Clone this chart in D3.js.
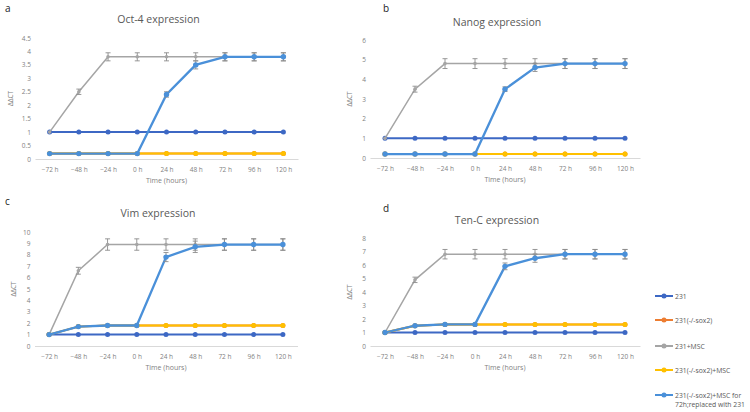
<!DOCTYPE html>
<html><head><meta charset="utf-8">
<script src="https://cdn.jsdelivr.net/npm/d3@7/dist/d3.min.js"></script>
<style>body{margin:0;background:#fff;}svg{display:block;font-family:"Open Sans",sans-serif;}</style>
</head><body><svg id="c" width="750" height="412"></svg>
<script>
const timeLabels = ["\u221272 h","\u221248 h","\u221224 h","0 h","24 h","48 h","72 h","96 h","120 h"];
const seriesNames = ["231","231(-/-sox2)","231+MSC","231(-/-sox2)+MSC","231(-/-sox2)+MSC for 72h;replaced with 231"];
const seriesColors = ["#3d68c4","#ed7d31","#a5a5a5","#ffc000","#4a90d9"];

// Oct-4
const oct4_231   = [1,1,1,1,1,1,1,1,1];
const oct4_ko    = [0.2,0.2,0.2,0.2,0.2,0.2,0.2,0.2,0.2];
const oct4_msc   = [1,2.5,3.8,3.8,3.8,3.8,3.8,3.8,3.8];
const oct4_komsc = [0.2,0.2,0.2,0.2,0.2,0.2,0.2,0.2,0.2];
const oct4_repl  = [0.2,0.2,0.2,0.2,2.4,3.5,3.8,3.8,3.8];
const oct4_mscErr  = [0,0.1,0.15,0.15,0.15,0.15,0.15,0.15,0.15];
const oct4_replErr = [0,0,0,0,0.1,0.15,0.15,0.15,0.15];
// Nanog
const nanog_231   = [1,1,1,1,1,1,1,1,1];
const nanog_ko    = [0.2,0.2,0.2,0.2,0.2,0.2,0.2,0.2,0.2];
const nanog_msc   = [1,3.5,4.8,4.8,4.8,4.8,4.8,4.8,4.8];
const nanog_komsc = [0.2,0.2,0.2,0.2,0.2,0.2,0.2,0.2,0.2];
const nanog_repl  = [0.2,0.2,0.2,0.2,3.5,4.6,4.8,4.8,4.8];
const nanog_mscErr  = [0,0.15,0.25,0.25,0.25,0.25,0.25,0.25,0.25];
const nanog_replErr = [0,0,0,0,0.12,0.2,0.25,0.25,0.25];
// Vim
const vim_231   = [1,1,1,1,1,1,1,1,1];
const vim_ko    = [1,1.7,1.8,1.8,1.8,1.8,1.8,1.8,1.8];
const vim_msc   = [1,6.6,8.9,8.9,8.9,8.9,8.9,8.9,8.9];
const vim_komsc = [1,1.7,1.8,1.8,1.8,1.8,1.8,1.8,1.8];
const vim_repl  = [1,1.7,1.8,1.8,7.8,8.7,8.9,8.9,8.9];
const vim_mscErr  = [0,0.3,0.5,0.5,0.5,0.5,0.5,0.5,0.5];
const vim_replErr = [0,0,0,0,0.4,0.5,0.5,0.5,0.5];
// Ten-C
const tenc_231   = [1,1,1,1,1,1,1,1,1];
const tenc_ko    = [1,1.5,1.6,1.6,1.6,1.6,1.6,1.6,1.6];
const tenc_msc   = [1,4.9,6.8,6.8,6.8,6.8,6.8,6.8,6.8];
const tenc_komsc = [1,1.5,1.6,1.6,1.6,1.6,1.6,1.6,1.6];
const tenc_repl  = [1,1.5,1.6,1.6,5.9,6.5,6.8,6.8,6.8];
const tenc_mscErr  = [0,0.2,0.35,0.35,0.35,0.35,0.35,0.35,0.35];
const tenc_replErr = [0,0,0,0,0.25,0.3,0.35,0.35,0.35];

const oct4Ticks = [0,0.5,1,1.5,2,2.5,3,3.5,4,4.5];
const nanogTicks = [0,1,2,3,4,5,6];
const vimTicks = [0,1,2,3,4,5,6,7,8,9,10];
const tencTicks = [0,1,2,3,4,5,6,7,8];

const panels = [
  {letter:"a", title:"Oct-4 expression", series:[oct4_231,oct4_ko,oct4_msc,oct4_komsc,oct4_repl], mscErr:oct4_mscErr, replErr:oct4_replErr, ticks:oct4Ticks,
   xr:[35,298], yr:[159,38], lx:5, ly:12, ty:23, axTitleX:13},
  {letter:"b", title:"Nanog expression", series:[nanog_231,nanog_ko,nanog_msc,nanog_komsc,nanog_repl], mscErr:nanog_mscErr, replErr:nanog_replErr, ticks:nanogTicks,
   xr:[370,640], yr:[158,40], lx:383, ly:12, ty:26, axTitleX:352},
  {letter:"c", title:"Vim expression", series:[vim_231,vim_ko,vim_msc,vim_komsc,vim_repl], mscErr:vim_mscErr, replErr:vim_replErr, ticks:vimTicks,
   xr:[34.5,297.5], yr:[346,232], lx:5, ly:205, ty:217, axTitleX:16},
  {letter:"d", title:"Ten-C expression", series:[tenc_231,tenc_ko,tenc_msc,tenc_komsc,tenc_repl], mscErr:tenc_mscErr, replErr:tenc_replErr, ticks:tencTicks,
   xr:[370,640], yr:[346,238], lx:383, ly:212, ty:224, axTitleX:352}
];

const svg = d3.select("#c");
const txtCol = "#7f7f7f";

panels.forEach(p => {
  const g = svg.append("g");
  const x = d3.scalePoint().domain(timeLabels).range(p.xr).padding(0.5);
  const y = d3.scaleLinear().domain([0, d3.max(p.ticks)]).range(p.yr);

  g.append("text").attr("x",p.lx).attr("y",p.ly).attr("font-size",10).attr("fill","#222").text(p.letter);
  g.append("text").attr("x",(p.xr[0]+p.xr[1])/2 - 8).attr("y",p.ty).attr("text-anchor","middle")
    .attr("font-size",10.5).attr("fill","#595959").text(p.title);

  const ya = d3.axisLeft(y).tickValues(p.ticks).tickFormat(d=>String(d)).tickSize(0).tickPadding(0);
  const yg = g.append("g").attr("transform",`translate(${p.xr[0]-4},0)`).call(ya);
  yg.select(".domain").remove();
  yg.selectAll("text").attr("font-size",6.5).attr("fill",txtCol).attr("font-family","Open Sans");

  const xa = d3.axisBottom(x).tickSize(0).tickPadding(8);
  const xg = g.append("g").attr("transform",`translate(0,${p.yr[0]})`).call(xa);
  xg.select(".domain").attr("stroke","#d9d9d9").attr("stroke-width",1);
  xg.selectAll("text").attr("font-size",6.5).attr("fill",txtCol).attr("font-family","Open Sans");

  g.append("text").attr("x",(p.xr[0]+p.xr[1])/2).attr("y",p.yr[0]+24).attr("text-anchor","middle")
    .attr("font-size",7).attr("fill",txtCol).text("Time (hours)");
  g.append("text").attr("transform",`translate(${p.axTitleX},${(p.yr[0]+p.yr[1])/2}) rotate(-90)`)
    .attr("text-anchor","middle").attr("font-size",6.5).attr("fill",txtCol).text("\u0394\u0394CT");

  const line = d3.line().x((d,i)=>x(timeLabels[i])).y(d=>y(d));
  p.series.forEach((s,si) => {
    const col = seriesColors[si];
    const sw = si===2 ? 1.5 : (si===4 ? 2.3 : 2);
    const r = si===2 ? 1.8 : (si===4 ? 2.7 : 2.5);
    g.append("path").datum(s).attr("d",line).attr("fill","none").attr("stroke",col).attr("stroke-width",sw);
    const err = si===2 ? p.mscErr : (si===4 ? p.replErr : null);
    if (err) {
      s.forEach((v,i) => {
        if (!err[i]) return;
        const cx = x(timeLabels[i]);
        const eg = g.append("g").attr("stroke","#8c8c8c").attr("stroke-width",0.9);
        eg.append("line").attr("x1",cx).attr("x2",cx).attr("y1",y(v-err[i])).attr("y2",y(v+err[i]));
        eg.append("line").attr("x1",cx-2.5).attr("x2",cx+2.5).attr("y1",y(v-err[i])).attr("y2",y(v-err[i]));
        eg.append("line").attr("x1",cx-2.5).attr("x2",cx+2.5).attr("y1",y(v+err[i])).attr("y2",y(v+err[i]));
      });
    }
    g.selectAll(null).data(s).enter().append("circle")
      .attr("cx",(d,i)=>x(timeLabels[i])).attr("cy",d=>y(d)).attr("r",r).attr("fill",col);
  });
});

const legY = [296, 320, 346, 370, 395];
seriesNames.forEach((n,i) => {
  const lg = svg.append("g");
  lg.append("line").attr("x1",655).attr("x2",673).attr("y1",legY[i]).attr("y2",legY[i])
    .attr("stroke",seriesColors[i]).attr("stroke-width",2);
  lg.append("circle").attr("cx",664).attr("cy",legY[i]).attr("r",2.5).attr("fill",seriesColors[i]);
  const t = lg.append("text").attr("x",675).attr("y",legY[i]+2.5).attr("font-size",6.8).attr("fill","#595959");
  if (i===4) {
    t.append("tspan").attr("x",675).text("231(-/-sox2)+MSC for");
    t.append("tspan").attr("x",675).attr("dy",9.5).text("72h;replaced with 231");
  } else t.text(n);
});
</script></body></html>
